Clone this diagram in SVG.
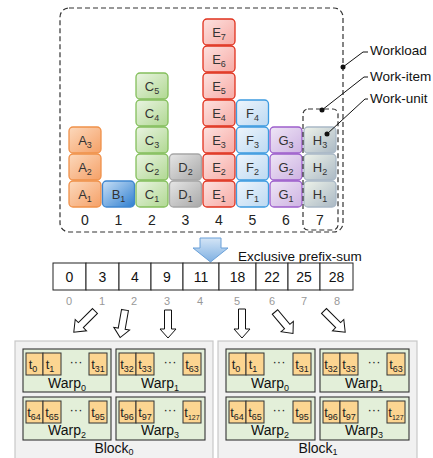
<svg xmlns="http://www.w3.org/2000/svg" width="433" height="458" viewBox="0 0 433 458">
<defs>
<linearGradient id="gA" x1="0" y1="0" x2="1" y2="1"><stop offset="0" stop-color="#fcd9bd"/><stop offset="1" stop-color="#f5a066"/></linearGradient>
<linearGradient id="gB" x1="0" y1="0" x2="1" y2="1"><stop offset="0" stop-color="#c9e0f6"/><stop offset="1" stop-color="#2f7fd0"/></linearGradient>
<linearGradient id="gC" x1="0" y1="0" x2="1" y2="1"><stop offset="0" stop-color="#eaf4e2"/><stop offset="1" stop-color="#b0d892"/></linearGradient>
<linearGradient id="gD" x1="0" y1="0" x2="1" y2="1"><stop offset="0" stop-color="#e6e6e6"/><stop offset="1" stop-color="#a8a8a8"/></linearGradient>
<linearGradient id="gE" x1="0" y1="0" x2="1" y2="1"><stop offset="0" stop-color="#fde2e0"/><stop offset="1" stop-color="#f7aaa4"/></linearGradient>
<linearGradient id="gF" x1="0" y1="0" x2="1" y2="1"><stop offset="0" stop-color="#eef5fc"/><stop offset="1" stop-color="#bcd9f2"/></linearGradient>
<linearGradient id="gG" x1="0" y1="0" x2="1" y2="1"><stop offset="0" stop-color="#efe6f6"/><stop offset="1" stop-color="#cdb2e2"/></linearGradient>
<linearGradient id="gH" x1="0" y1="0" x2="1" y2="1"><stop offset="0" stop-color="#eef3ea"/><stop offset="1" stop-color="#aab8c4"/></linearGradient>
<linearGradient id="gArrow" x1="0" y1="0" x2="0" y2="1"><stop offset="0" stop-color="#d4e5f6"/><stop offset="1" stop-color="#7fb0e2"/></linearGradient>
</defs>
<style>
text{font-family:"Liberation Sans",Arial,sans-serif;}
.u{stroke-width:1.3;}
.uA{fill:url(#gA);stroke:#f0914a;}
.uB{fill:url(#gB);stroke:#3f86cf;}
.uC{fill:url(#gC);stroke:#84bf5c;}
.uD{fill:url(#gD);stroke:#a6a6a6;}
.uE{fill:url(#gE);stroke:#e0321e;}
.uF{fill:url(#gF);stroke:#3d9be0;}
.uG{fill:url(#gG);stroke:#9d5fcc;}
.uH{fill:url(#gH);stroke:#a9b8c6;}
.ul{font-size:13px;fill:#333;text-anchor:middle;}
.sub{font-size:9px;}
.col{font-size:14px;fill:#222;text-anchor:middle;}
.lbl{font-size:13.5px;fill:#111;}
.dash{fill:none;stroke:#333;stroke-width:1.2;stroke-dasharray:5,3;}
.lead{fill:none;stroke:#111;stroke-width:1;}
.cell{fill:#fff;stroke:#222;stroke-width:1;}
.val{font-size:14px;fill:#111;text-anchor:middle;}
.idx{font-size:11px;fill:#999;text-anchor:middle;}
.harrow{fill:#fff;stroke:#111;stroke-width:1;}
.block{fill:#f1f1f1;stroke:#c8c8c8;stroke-width:1.2;}
.warp{fill:#e3efd9;stroke:#333;stroke-width:1.1;}
.th{fill:#fcd591;stroke:#333;stroke-width:1;}
.tl{font-size:13px;fill:#222;text-anchor:middle;}
.wl{font-size:14px;fill:#111;text-anchor:middle;}
</style>

<!-- Workload dashed box -->
<rect id="workload" class="dash" x="60" y="8" width="283" height="224" rx="9"/>

<!-- Work-item columns -->
<g id="item-A">
<rect class="u uA" x="69" y="181" width="32" height="26" rx="4"/><text class="ul" x="85" y="199">A<tspan class="sub" dy="3">1</tspan></text>
<rect class="u uA" x="69" y="154" width="32" height="26" rx="4"/><text class="ul" x="85" y="172">A<tspan class="sub" dy="3">2</tspan></text>
<rect class="u uA" x="69" y="127" width="32" height="26" rx="4"/><text class="ul" x="85" y="145">A<tspan class="sub" dy="3">3</tspan></text>
</g>
<g id="item-B">
<rect class="u uB" x="102.5" y="181" width="32" height="26" rx="4"/><text class="ul" x="118.5" y="199">B<tspan class="sub" dy="3">1</tspan></text>
</g>
<g id="item-C">
<rect class="u uC" x="136" y="181" width="32" height="26" rx="4"/><text class="ul" x="152" y="199">C<tspan class="sub" dy="3">1</tspan></text>
<rect class="u uC" x="136" y="154" width="32" height="26" rx="4"/><text class="ul" x="152" y="172">C<tspan class="sub" dy="3">2</tspan></text>
<rect class="u uC" x="136" y="127" width="32" height="26" rx="4"/><text class="ul" x="152" y="145">C<tspan class="sub" dy="3">3</tspan></text>
<rect class="u uC" x="136" y="100" width="32" height="26" rx="4"/><text class="ul" x="152" y="118">C<tspan class="sub" dy="3">4</tspan></text>
<rect class="u uC" x="136" y="73" width="32" height="26" rx="4"/><text class="ul" x="152" y="91">C<tspan class="sub" dy="3">5</tspan></text>
</g>
<g id="item-D">
<rect class="u uD" x="169.5" y="181" width="32" height="26" rx="4"/><text class="ul" x="185.5" y="199">D<tspan class="sub" dy="3">1</tspan></text>
<rect class="u uD" x="169.5" y="154" width="32" height="26" rx="4"/><text class="ul" x="185.5" y="172">D<tspan class="sub" dy="3">2</tspan></text>
</g>
<g id="item-E">
<rect class="u uE" x="203" y="181" width="32" height="26" rx="4"/><text class="ul" x="219" y="199">E<tspan class="sub" dy="3">1</tspan></text>
<rect class="u uE" x="203" y="154" width="32" height="26" rx="4"/><text class="ul" x="219" y="172">E<tspan class="sub" dy="3">2</tspan></text>
<rect class="u uE" x="203" y="127" width="32" height="26" rx="4"/><text class="ul" x="219" y="145">E<tspan class="sub" dy="3">3</tspan></text>
<rect class="u uE" x="203" y="100" width="32" height="26" rx="4"/><text class="ul" x="219" y="118">E<tspan class="sub" dy="3">4</tspan></text>
<rect class="u uE" x="203" y="73" width="32" height="26" rx="4"/><text class="ul" x="219" y="91">E<tspan class="sub" dy="3">5</tspan></text>
<rect class="u uE" x="203" y="46" width="32" height="26" rx="4"/><text class="ul" x="219" y="64">E<tspan class="sub" dy="3">6</tspan></text>
<rect class="u uE" x="203" y="19" width="32" height="26" rx="4"/><text class="ul" x="219" y="37">E<tspan class="sub" dy="3">7</tspan></text>
</g>
<g id="item-F">
<rect class="u uF" x="236.5" y="181" width="32" height="26" rx="4"/><text class="ul" x="252.5" y="199">F<tspan class="sub" dy="3">1</tspan></text>
<rect class="u uF" x="236.5" y="154" width="32" height="26" rx="4"/><text class="ul" x="252.5" y="172">F<tspan class="sub" dy="3">2</tspan></text>
<rect class="u uF" x="236.5" y="127" width="32" height="26" rx="4"/><text class="ul" x="252.5" y="145">F<tspan class="sub" dy="3">3</tspan></text>
<rect class="u uF" x="236.5" y="100" width="32" height="26" rx="4"/><text class="ul" x="252.5" y="118">F<tspan class="sub" dy="3">4</tspan></text>
</g>
<g id="item-G">
<rect class="u uG" x="270" y="181" width="32" height="26" rx="4"/><text class="ul" x="286" y="199">G<tspan class="sub" dy="3">1</tspan></text>
<rect class="u uG" x="270" y="154" width="32" height="26" rx="4"/><text class="ul" x="286" y="172">G<tspan class="sub" dy="3">2</tspan></text>
<rect class="u uG" x="270" y="127" width="32" height="26" rx="4"/><text class="ul" x="286" y="145">G<tspan class="sub" dy="3">3</tspan></text>
</g>
<g id="item-H">
<rect class="u uH" x="304" y="181" width="32" height="26" rx="4"/><text class="ul" x="320" y="199">H<tspan class="sub" dy="3">1</tspan></text>
<rect class="u uH" x="304" y="154" width="32" height="26" rx="4"/><text class="ul" x="320" y="172">H<tspan class="sub" dy="3">2</tspan></text>
<rect class="u uH" x="304" y="127" width="32" height="26" rx="4"/><text class="ul" x="320" y="145">H<tspan class="sub" dy="3">3</tspan></text>
<rect class="dash" x="303" y="109" width="35" height="121" rx="5"/>
</g>

<!-- column indices -->
<g id="col-labels">
<text class="col" x="85" y="225">0</text>
<text class="col" x="118.5" y="225">1</text>
<text class="col" x="152" y="225">2</text>
<text class="col" x="185.5" y="225">3</text>
<text class="col" x="219" y="225">4</text>
<text class="col" x="252.5" y="225">5</text>
<text class="col" x="286" y="225">6</text>
<text class="col" x="320" y="225">7</text>
</g>

<!-- legend -->
<g id="legend">
<text class="lbl" x="370" y="55">Workload</text>
<text class="lbl" x="370" y="81">Work-item</text>
<text class="lbl" x="370" y="103">Work-unit</text>
</g>

<g id="connectors">
<polyline class="lead" points="343,67 363,52 368,52"/>
<circle cx="343" cy="67" r="2.5" fill="#111"/>
<polyline class="lead" points="322,110 364,77 368,77"/>
<circle cx="322" cy="110" r="2.5" fill="#111"/>
<polyline class="lead" points="327,134 365,99 368,99"/>
<circle cx="327" cy="134" r="2.5" fill="#111"/>
<!-- prefix arrow -->
<path d="M200,238 L221,238 L221,248 L228,248 L210.5,262 L193,248 L200,248 Z" fill="url(#gArrow)" stroke="#6aa0d8" stroke-width="1"/>
<!-- hollow arrows -->
<path class="harrow" transform="translate(95,311) rotate(45)" d="M-3.5,0 L3.5,0 L3.5,20 L8,20 L0,30 L-8,20 L-3.5,20 Z"/>
<path class="harrow" transform="translate(125,310) rotate(10)" d="M-3.5,0 L3.5,0 L3.5,19 L8,19 L0,28 L-8,19 L-3.5,19 Z"/>
<path class="harrow" transform="translate(168,310)" d="M-3.5,0 L3.5,0 L3.5,19 L8,19 L0,28 L-8,19 L-3.5,19 Z"/>
<path class="harrow" transform="translate(242,309)" d="M-3.5,0 L3.5,0 L3.5,20 L8,20 L0,29 L-8,20 L-3.5,20 Z"/>
<path class="harrow" transform="translate(275,312) rotate(-40)" d="M-3.5,0 L3.5,0 L3.5,19 L8,19 L0,28 L-8,19 L-3.5,19 Z"/>
<path class="harrow" transform="translate(324,311) rotate(-45)" d="M-3.5,0 L3.5,0 L3.5,20 L8,20 L0,30 L-8,20 L-3.5,20 Z"/>
</g>

<text class="lbl" x="238" y="261">Exclusive prefix-sum</text>

<!-- prefix-sum array -->
<g id="prefix-sum">
<rect class="cell" x="53" y="263" width="33" height="27"/>
<rect class="cell" x="86" y="263" width="33" height="27"/>
<rect class="cell" x="119" y="263" width="32" height="27"/>
<rect class="cell" x="151" y="263" width="32" height="27"/>
<rect class="cell" x="183" y="263" width="36" height="27"/>
<rect class="cell" x="219" y="263" width="37" height="27"/>
<rect class="cell" x="256" y="263" width="32" height="27"/>
<rect class="cell" x="288" y="263" width="32" height="27"/>
<rect class="cell" x="320" y="263" width="33" height="27"/>
<text class="val" x="69.5" y="282">0</text>
<text class="val" x="102.5" y="282">3</text>
<text class="val" x="135" y="282">4</text>
<text class="val" x="167" y="282">9</text>
<text class="val" x="201" y="282">11</text>
<text class="val" x="237.5" y="282">18</text>
<text class="val" x="272" y="282">22</text>
<text class="val" x="304" y="282">25</text>
<text class="val" x="336.5" y="282">28</text>
<text class="idx" x="69" y="305">0</text>
<text class="idx" x="102" y="305">1</text>
<text class="idx" x="134" y="305">2</text>
<text class="idx" x="167" y="305">3</text>
<text class="idx" x="200" y="305">4</text>
<text class="idx" x="237" y="305">5</text>
<text class="idx" x="272" y="305">6</text>
<text class="idx" x="304" y="305">7</text>
<text class="idx" x="337" y="305">8</text>
</g>

<!-- Block 0 -->
<g id="block0">
<rect class="block" x="15" y="341" width="198" height="130"/>
<g id="b0-warp0">
<rect class="warp" x="23" y="349" width="88" height="43"/>
<rect class="th" x="26" y="353" width="17" height="22"/><text class="tl" x="33" y="369">t<tspan class="sub" dy="3">0</tspan></text>
<rect class="th" x="43" y="353" width="18" height="22"/><text class="tl" x="50" y="369">t<tspan class="sub" dy="3">1</tspan></text>
<text class="tl" x="76" y="366">···</text>
<rect class="th" x="89" y="353" width="18" height="22"/><text class="tl" x="98" y="369">t<tspan class="sub" dy="3">31</tspan></text>
<text class="wl" x="67" y="388">Warp<tspan class="sub" dy="3">0</tspan></text>
</g>
<g id="b0-warp1">
<rect class="warp" x="116" y="349" width="89" height="43"/>
<rect class="th" x="119" y="353" width="17" height="22"/><text class="tl" x="127" y="369">t<tspan class="sub" dy="3">32</tspan></text>
<rect class="th" x="136" y="353" width="18" height="22"/><text class="tl" x="145" y="369">t<tspan class="sub" dy="3">33</tspan></text>
<text class="tl" x="170" y="366">···</text>
<rect class="th" x="183" y="353" width="18" height="22"/><text class="tl" x="192" y="369">t<tspan class="sub" dy="3">63</tspan></text>
<text class="wl" x="160" y="388">Warp<tspan class="sub" dy="3">1</tspan></text>
</g>
<g id="b0-warp2">
<rect class="warp" x="23" y="397" width="88" height="43"/>
<rect class="th" x="26" y="401" width="17" height="22"/><text class="tl" x="34" y="417">t<tspan class="sub" dy="3">64</tspan></text>
<rect class="th" x="43" y="401" width="18" height="22"/><text class="tl" x="52" y="417">t<tspan class="sub" dy="3">65</tspan></text>
<text class="tl" x="76" y="414">···</text>
<rect class="th" x="89" y="401" width="18" height="22"/><text class="tl" x="98" y="417">t<tspan class="sub" dy="3">95</tspan></text>
<text class="wl" x="67" y="435">Warp<tspan class="sub" dy="3">2</tspan></text>
</g>
<g id="b0-warp3">
<rect class="warp" x="116" y="397" width="89" height="43"/>
<rect class="th" x="119" y="401" width="17" height="22"/><text class="tl" x="127" y="417">t<tspan class="sub" dy="3">96</tspan></text>
<rect class="th" x="136" y="401" width="18" height="22"/><text class="tl" x="145" y="417">t<tspan class="sub" dy="3">97</tspan></text>
<text class="tl" x="170" y="414">···</text>
<rect class="th" x="183" y="401" width="18" height="22"/><text class="tl" x="192" y="417">t<tspan class="sub" dy="3" style="font-size:7px">127</tspan></text>
<text class="wl" x="160" y="435">Warp<tspan class="sub" dy="3">3</tspan></text>
</g>
<text class="wl" x="114" y="453">Block<tspan class="sub" dy="2">0</tspan></text>
</g>

<!-- Block 1 -->
<g id="block1">
<rect class="block" x="218" y="341" width="199" height="130"/>
<g id="b1-warp0">
<rect class="warp" x="226" y="349" width="89" height="43"/>
<rect class="th" x="229" y="353" width="17" height="22"/><text class="tl" x="236" y="369">t<tspan class="sub" dy="3">0</tspan></text>
<rect class="th" x="246" y="353" width="18" height="22"/><text class="tl" x="253" y="369">t<tspan class="sub" dy="3">1</tspan></text>
<text class="tl" x="279" y="366">···</text>
<rect class="th" x="293" y="353" width="18" height="22"/><text class="tl" x="302" y="369">t<tspan class="sub" dy="3">31</tspan></text>
<text class="wl" x="270" y="388">Warp<tspan class="sub" dy="3">0</tspan></text>
</g>
<g id="b1-warp1">
<rect class="warp" x="320" y="349" width="89" height="43"/>
<rect class="th" x="323" y="353" width="17" height="22"/><text class="tl" x="331" y="369">t<tspan class="sub" dy="3">32</tspan></text>
<rect class="th" x="340" y="353" width="18" height="22"/><text class="tl" x="349" y="369">t<tspan class="sub" dy="3">33</tspan></text>
<text class="tl" x="374" y="366">···</text>
<rect class="th" x="387" y="353" width="18" height="22"/><text class="tl" x="396" y="369">t<tspan class="sub" dy="3">63</tspan></text>
<text class="wl" x="364" y="388">Warp<tspan class="sub" dy="3">1</tspan></text>
</g>
<g id="b1-warp2">
<rect class="warp" x="226" y="397" width="89" height="43"/>
<rect class="th" x="229" y="401" width="17" height="22"/><text class="tl" x="237" y="417">t<tspan class="sub" dy="3">64</tspan></text>
<rect class="th" x="246" y="401" width="18" height="22"/><text class="tl" x="255" y="417">t<tspan class="sub" dy="3">65</tspan></text>
<text class="tl" x="279" y="414">···</text>
<rect class="th" x="293" y="401" width="18" height="22"/><text class="tl" x="302" y="417">t<tspan class="sub" dy="3">95</tspan></text>
<text class="wl" x="270" y="435">Warp<tspan class="sub" dy="3">2</tspan></text>
</g>
<g id="b1-warp3">
<rect class="warp" x="320" y="397" width="89" height="43"/>
<rect class="th" x="323" y="401" width="17" height="22"/><text class="tl" x="331" y="417">t<tspan class="sub" dy="3">96</tspan></text>
<rect class="th" x="340" y="401" width="18" height="22"/><text class="tl" x="349" y="417">t<tspan class="sub" dy="3">97</tspan></text>
<text class="tl" x="374" y="414">···</text>
<rect class="th" x="387" y="401" width="18" height="22"/><text class="tl" x="396" y="417">t<tspan class="sub" dy="3" style="font-size:7px">127</tspan></text>
<text class="wl" x="364" y="435">Warp<tspan class="sub" dy="3">3</tspan></text>
</g>
<text class="wl" x="318" y="453">Block<tspan class="sub" dy="2">1</tspan></text>
</g>
</svg>
